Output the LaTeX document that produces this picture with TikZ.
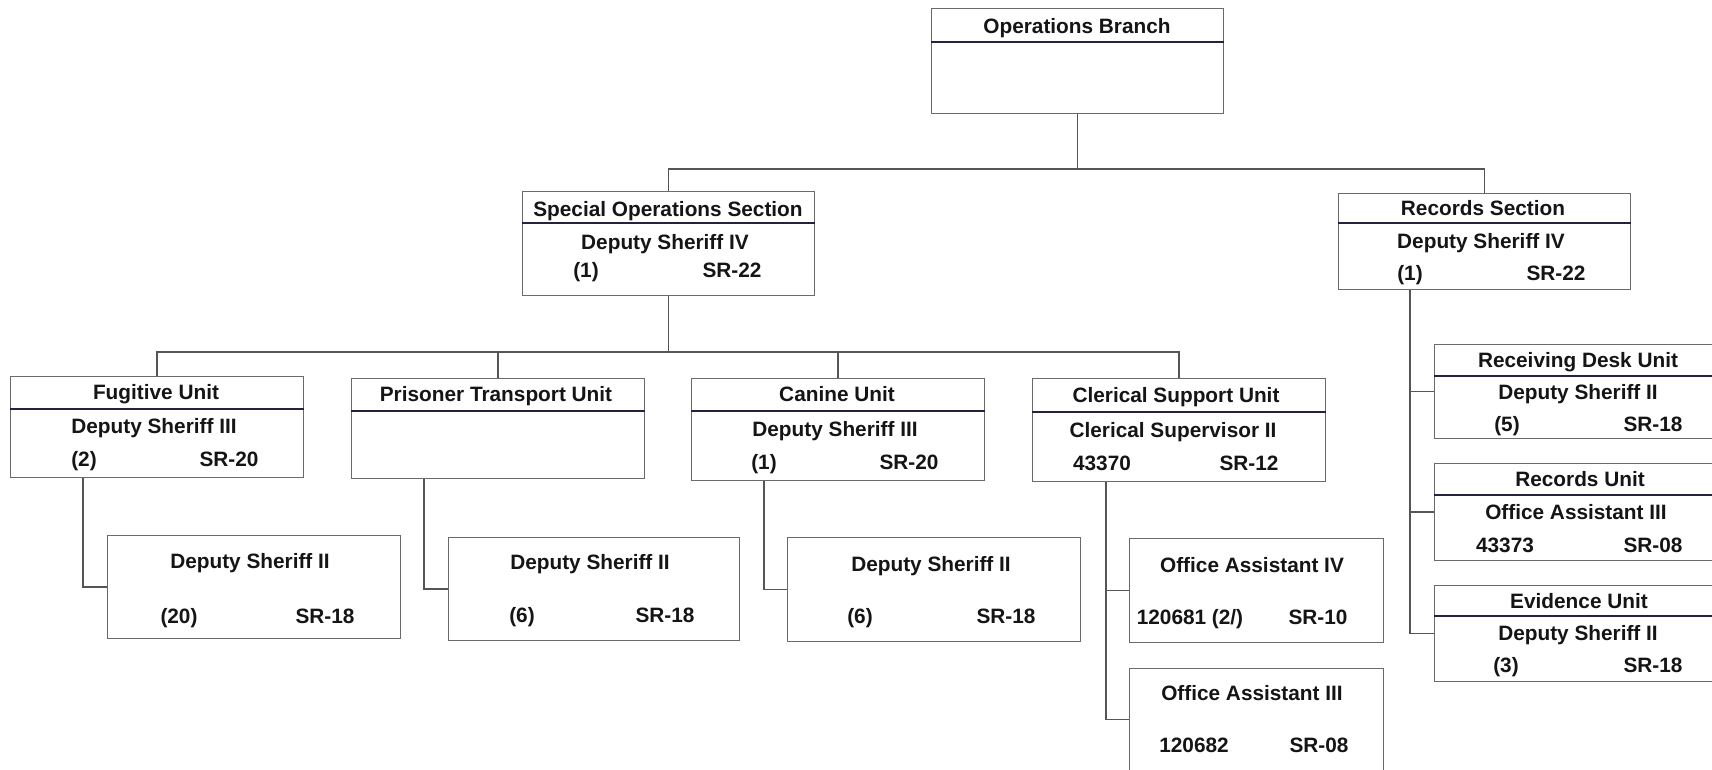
\documentclass[tikz,border=0pt]{standalone}
\usepackage{fontspec}
\setmainfont{Liberation Sans}
\definecolor{boxgray}{HTML}{6A6A6A}
\definecolor{divcol}{HTML}{23233F}
\definecolor{conncol}{HTML}{555555}
\definecolor{txtcol}{HTML}{151515}
\begin{document}
\begin{tikzpicture}[x=1pt,y=-1pt,
  box/.style={draw=boxgray, line width=1.2pt, fill=white, rectangle, inner sep=0pt, anchor=north west},
  divider/.style={draw=divcol, line width=2.2pt},
  conn/.style={draw=conncol, line width=1.4pt},
  txt/.style={inner sep=0pt, text height=14.9pt, text depth=0pt, text=txtcol, font=\bfseries\fontsize{20.8}{24}\selectfont}]
\useasboundingbox (0,0) rectangle (1712,769);
\fill[white] (0,0) rectangle (1712,769);
\clip (0,0) rectangle (1712,769);

% boxes
\node[box, minimum width=292pt, minimum height=105pt] (ops) at (931,8) {};
\node[box, minimum width=292pt, minimum height=104pt] (spec) at (522,191) {};
\node[box, minimum width=292pt, minimum height=96pt] (rec) at (1338,193) {};
\node[box, minimum width=293pt, minimum height=101pt] (fug) at (10,376) {};
\node[box, minimum width=293pt, minimum height=100pt] (pris) at (351,378) {};
\node[box, minimum width=293pt, minimum height=102pt] (can) at (691,378) {};
\node[box, minimum width=293pt, minimum height=103pt] (cler) at (1032,378) {};
\node[box, minimum width=293pt, minimum height=103pt] (fugc) at (107,535) {};
\node[box, minimum width=291pt, minimum height=103pt] (prisc) at (448,537) {};
\node[box, minimum width=293pt, minimum height=104pt] (canc) at (787,537) {};
\node[box, minimum width=254pt, minimum height=104pt] (oafour) at (1129,538) {};
\node[box, minimum width=254pt, minimum height=102pt] (oathree) at (1129,668) {};
\node[box, minimum width=290pt, minimum height=94pt] (rdu) at (1434,344) {};
\node[box, minimum width=290pt, minimum height=97pt] (ru) at (1434,463) {};
\node[box, minimum width=290pt, minimum height=96pt] (ev) at (1434,585) {};

% dividers
\draw[divider] ([yshift=-34pt]ops.north west) -- ([yshift=-34pt]ops.north east);
\draw[divider] ([yshift=-32pt]spec.north west) -- ([yshift=-32pt]spec.north east);
\draw[divider] ([yshift=-30pt]rec.north west) -- ([yshift=-30pt]rec.north east);
\draw[divider] ([yshift=-33pt]fug.north west) -- ([yshift=-33pt]fug.north east);
\draw[divider] ([yshift=-33pt]pris.north west) -- ([yshift=-33pt]pris.north east);
\draw[divider] ([yshift=-33pt]can.north west) -- ([yshift=-33pt]can.north east);
\draw[divider] ([yshift=-34pt]cler.north west) -- ([yshift=-34pt]cler.north east);
\draw[divider] ([yshift=-32pt]rdu.north west) -- ([yshift=-32pt]rdu.north east);
\draw[divider] ([yshift=-32pt]ru.north west) -- ([yshift=-32pt]ru.north east);
\draw[divider] ([yshift=-31pt]ev.north west) -- ([yshift=-31pt]ev.north east);

% connectors
\coordinate (busA) at (0,169);
\coordinate (busB) at (0,352);
\draw[conn] (ops.south) -- (ops.south |- busA);
\draw[conn] (spec.north) |- (ops.south |- busA) -| (rec.north);
\draw[conn] (spec.south) -- (spec.south |- busB);
\draw[conn] (fug.north) |- (spec.south |- busB) -| (cler.north);
\draw[conn] (pris.north) -- (pris.north |- busB);
\draw[conn] (can.north) -- (can.north |- busB);
\draw[conn] ([xshift=73pt]fug.south west) |- (fugc.west);
\draw[conn] ([xshift=73pt]pris.south west) |- (prisc.west);
\draw[conn] ([xshift=73pt]can.south west) |- (canc.west);
\draw[conn] ([xshift=74pt]cler.south west) |- (oafour.west);
\draw[conn] ([xshift=74pt]cler.south west) |- (oathree.west);
\draw[conn] ([xshift=72pt]rec.south west) |- (rdu.west);
\draw[conn] ([xshift=72pt]rec.south west) |- (ru.west);
\draw[conn] ([xshift=72pt]rec.south west) |- (ev.west);

% texts
\node[txt] (opsT) at (1077,26) {Operations Branch};

\node[txt] (specT) at (668,209) {Special Operations Section};
\node[txt] (specP) at (665,242) {Deputy Sheriff IV};
\node[txt] (specN) at (586,270) {(1)};
\node[txt] (specG) at (732,270) {SR-22};

\node[txt] (recT) at (1483,208) {Records Section};
\node[txt] (recP) at (1481,241) {Deputy Sheriff IV};
\node[txt] (recN) at (1410,273) {(1)};
\node[txt] (recG) at (1556,273) {SR-22};

\node[txt] (fugT) at (156,392) {Fugitive Unit};
\node[txt] (fugP) at (154,426) {Deputy Sheriff III};
\node[txt] (fugN) at (84,459) {(2)};
\node[txt] (fugG) at (229,459) {SR-20};

\node[txt] (prisT) at (496,394) {Prisoner Transport Unit};

\node[txt] (canT) at (837,394) {Canine Unit};
\node[txt] (canP) at (835,429) {Deputy Sheriff III};
\node[txt] (canN) at (764,462) {(1)};
\node[txt] (canG) at (909,462) {SR-20};

\node[txt] (clerT) at (1176,395) {Clerical Support Unit};
\node[txt] (clerP) at (1173,430) {Clerical Supervisor II};
\node[txt] (clerN) at (1102,463) {43370};
\node[txt] (clerG) at (1249,463) {SR-12};

\node[txt] (fugcP) at (250,561) {Deputy Sheriff II};
\node[txt] (fugcN) at (179,616) {(20)};
\node[txt] (fugcG) at (325,616) {SR-18};

\node[txt] (priscP) at (590,562) {Deputy Sheriff II};
\node[txt] (priscN) at (522,615) {(6)};
\node[txt] (priscG) at (665,615) {SR-18};

\node[txt] (cancP) at (931,564) {Deputy Sheriff II};
\node[txt] (cancN) at (860,616) {(6)};
\node[txt] (cancG) at (1006,616) {SR-18};

\node[txt] (oafourP) at (1252,565) {Office Assistant IV};
\node[txt] (oafourN) at (1190,617) {120681 (2/)};
\node[txt] (oafourG) at (1318,617) {SR-10};

\node[txt] (oathreeP) at (1252,693) {Office Assistant III};
\node[txt] (oathreeN) at (1194,745) {120682};
\node[txt] (oathreeG) at (1319,745) {SR-08};

\node[txt] (rduT) at (1578,360) {Receiving Desk Unit};
\node[txt] (rduP) at (1578,392) {Deputy Sheriff II};
\node[txt] (rduN) at (1507,424) {(5)};
\node[txt] (rduG) at (1653,424) {SR-18};

\node[txt] (ruT) at (1580,479) {Records Unit};
\node[txt] (ruP) at (1576,512) {Office Assistant III};
\node[txt] (ruN) at (1505,545) {43373};
\node[txt] (ruG) at (1653,545) {SR-08};

\node[txt] (evT) at (1579,601) {Evidence Unit};
\node[txt] (evP) at (1578,633) {Deputy Sheriff II};
\node[txt] (evN) at (1506,665) {(3)};
\node[txt] (evG) at (1653,665) {SR-18};
\end{tikzpicture}
\end{document}
